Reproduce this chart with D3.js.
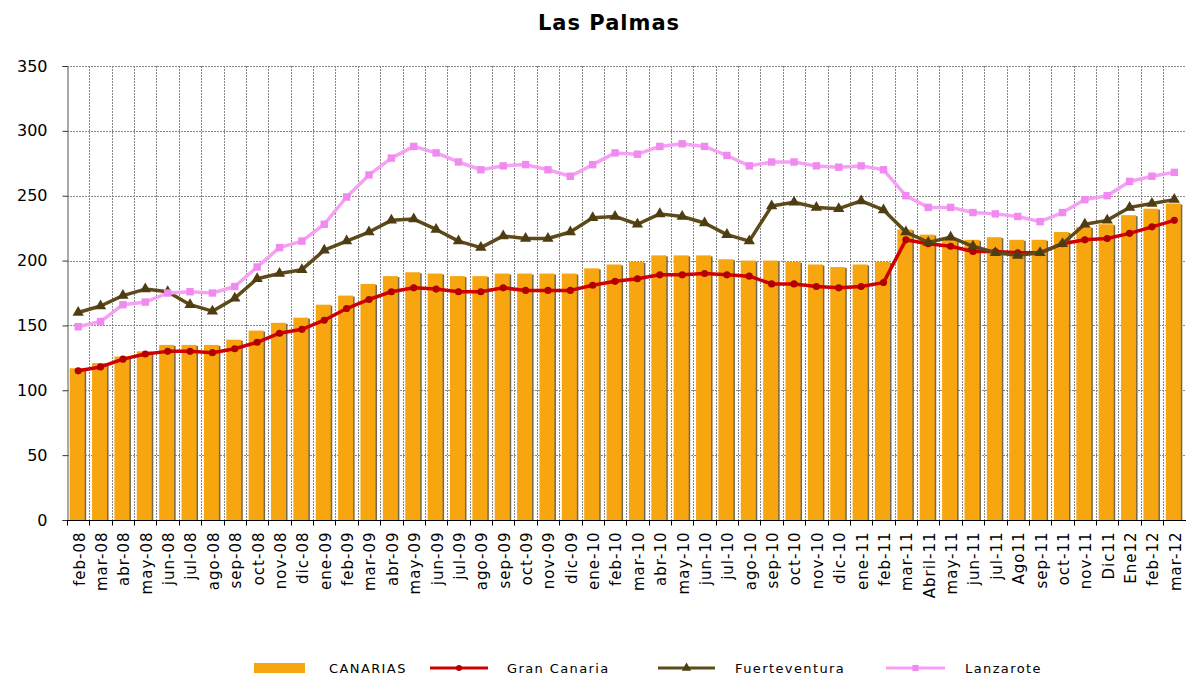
<!DOCTYPE html>
<html>
<head>
<meta charset="utf-8">
<script src="https://cdn.jsdelivr.net/npm/d3@7"></script>
<style>
  body { margin: 0; background: #fff; }
  text { font-family: "DejaVu Sans", Verdana, sans-serif; }
</style>
</head>
<body>
<div class="chart"></div>
<script>

var months = ["feb-08","mar-08","abr-08","may-08","jun-08","jul-08","ago-08","sep-08","oct-08","nov-08","dic-08",
  "ene-09","feb-09","mar-09","abr-09","may-09","jun-09","jul-09","ago-09","sep-09","oct-09","nov-09","dic-09",
  "ene-10","feb-10","mar-10","abr-10","may-10","jun-10","jul-10","ago-10","sep-10","oct-10","nov-10","dic-10",
  "ene-11","feb-11","mar-11","Abril-11","may-11","jun-11","jul-11","Ago11","sep-11","oct-11","nov-11","Dic11",
  "Ene12","feb-12","mar-12"];

var canarias = [117,121,126,130,135,135,135,139,146,152,156,166,173,182,188,191,190,188,188,190,190,190,190,
  194,197,199,204,204,204,201,200,200,199,197,195,197,199,224,220,216,216,218,216,216,222,226,228,235,240,244];

var granCanaria = [115,118,124,128,130,130,129,132,137,144,147,154,163,170,176,179,178,176,176,179,177,177,177,
  181,184,186,189,189,190,189,188,182,182,180,179,180,183,216,213,211,207,207,206,206,213,216,217,221,226,231];

var fuerteventura = [160,165,173,178,176,166,161,171,186,190,193,208,215,222,231,232,224,215,210,219,217,217,222,
  233,234,228,236,234,229,220,215,242,245,241,240,246,239,222,214,218,211,206,204,206,213,228,231,241,244,247];

var lanzarote = [149,153,166,168,175,176,175,180,195,210,215,228,249,266,279,288,283,276,270,273,274,270,265,
  274,283,282,288,290,288,281,273,276,276,273,272,273,270,250,241,241,237,236,234,230,237,247,250,261,265,268];

var yTicks = [0,50,100,150,200,250,300,350];

var width = 1186, height = 676;
var plotLeft = 67, plotRight = 1185.5, plotTop = 66, plotBottom = 520;

var svg = d3.select(".chart").append("svg")
    .attr("width", width)
    .attr("height", height);

svg.append("rect").attr("width", width).attr("height", height).attr("fill", "#fff");

var x = d3.scaleBand().domain(months).range([plotLeft, plotRight]);
var y = d3.scaleLinear().domain([0, 350]).range([plotBottom, plotTop]);
var bw = x.bandwidth();

// title
svg.append("text")
    .attr("x", 609)
    .attr("y", 30)
    .attr("text-anchor", "middle")
    .style("font-size", "21px")
    .style("font-weight", "bold")
    .style("letter-spacing", "1px")
    .text("Las Palmas");

// grid
var grid = svg.append("g");
grid.selectAll(".hg").data(yTicks.slice(1)).enter().append("line")
    .attr("x1", plotLeft).attr("x2", width)
    .attr("y1", function(d) { return Math.round(y(d)) + 0.5; })
    .attr("y2", function(d) { return Math.round(y(d)) + 0.5; })
    .attr("stroke", "#888").attr("stroke-dasharray", "2,1");
grid.selectAll(".vg").data(months.slice(1)).enter().append("line")
    .attr("x1", function(d) { return Math.round(x(d)) + 0.5; })
    .attr("x2", function(d) { return Math.round(x(d)) + 0.5; })
    .attr("y1", plotTop).attr("y2", plotBottom)
    .attr("stroke", "#888").attr("stroke-dasharray", "2,1");

// bars
var barW = 15;
var bars = svg.append("g");
bars.selectAll(".shadow").data(canarias).enter().append("rect")
    .attr("x", function(d, i) { return x(months[i]) + (bw - barW) / 2 + 0.5; })
    .attr("y", function(d) { return y(d) + 1; })
    .attr("width", barW)
    .attr("height", function(d) { return plotBottom - y(d) - 1; })
    .attr("fill", "#76684a");
bars.selectAll(".bar").data(canarias).enter().append("rect")
    .attr("x", function(d, i) { return x(months[i]) + (bw - barW) / 2 - 1; })
    .attr("y", function(d) { return y(d); })
    .attr("width", barW)
    .attr("height", function(d) { return plotBottom - y(d); })
    .attr("fill", "#f7a60f");

// lines
var cx = function(i) { return x(months[i]) + bw / 2; };
var line = d3.line()
    .x(function(d, i) { return cx(i); })
    .y(function(d) { return y(d); });

var series = [
  { name: "Gran Canaria", values: granCanaria, color: "#d00000", mark: "#b00000", sym: d3.symbolCircle, size: 40 },
  { name: "Fuerteventura", values: fuerteventura, color: "#5e4a1a", mark: "#4e3c12", sym: d3.symbolTriangle, size: 55 },
  { name: "Lanzarote", values: lanzarote, color: "#f5a2f5", mark: "#f08af0", sym: d3.symbolSquare, size: 55 }
];

series.forEach(function(s) {
  var g = svg.append("g");
  g.append("path")
      .datum(s.values)
      .attr("d", line)
      .attr("fill", "none")
      .attr("stroke", s.color)
      .attr("stroke-width", 3.5)
      .attr("stroke-linejoin", "round");
  g.selectAll("path.m").data(s.values).enter().append("path")
      .attr("class", "m")
      .attr("d", d3.symbol().type(s.sym).size(s.size))
      .attr("transform", function(d, i) { return "translate(" + cx(i) + "," + y(d) + ")"; })
      .attr("fill", s.mark);
});

// y axis
var yAxis = svg.append("g")
    .attr("transform", "translate(" + (plotLeft + 0.5) + ",0)")
    .call(d3.axisLeft(y).tickValues(yTicks).tickSize(5).tickPadding(15));
yAxis.select(".domain").attr("stroke", "#555");
yAxis.selectAll(".tick line").attr("stroke", "#333");
yAxis.selectAll("text")
    .style("font-size", "16px")
    .attr("fill", "#000");

// x axis
var xAxis = svg.append("g")
    .attr("transform", "translate(0," + (plotBottom + 0.5) + ")");
xAxis.append("line")
    .attr("x1", plotLeft).attr("x2", width)
    .attr("stroke", "#000").attr("stroke-width", 1.2);
xAxis.selectAll(".xt").data(months).enter().append("line")
    .attr("x1", function(d) { return Math.round(x(d)) + 0.5; })
    .attr("x2", function(d) { return Math.round(x(d)) + 0.5; })
    .attr("y1", 0).attr("y2", 5)
    .attr("stroke", "#000");
xAxis.selectAll(".xl").data(months).enter().append("text")
    .attr("transform", function(d) { return "translate(" + (x(d) + bw / 2 + 1) + ",0) rotate(-90)"; })
    .attr("x", -11)
    .attr("dy", "0.36em")
    .attr("text-anchor", "end")
    .style("font-size", "15px")
    .style("letter-spacing", "1px")
    .text(function(d) { return d; });

// legend
var legend = svg.append("g");
var ly = 668;
legend.append("rect")
    .attr("x", 254).attr("y", ly - 5).attr("width", 51).attr("height", 10)
    .attr("fill", "#f7a60f");
legend.append("text")
    .attr("x", 329).attr("y", ly).attr("dy", "0.36em")
    .style("font-size", "13px").style("letter-spacing", "1.4px")
    .text("CANARIAS");

var legendPos = [
  { x1: 430, x2: 488, tx: 507 },
  { x1: 658, x2: 715, tx: 735 },
  { x1: 886, x2: 945, tx: 965 }
];
series.forEach(function(s, k) {
  var p = legendPos[k];
  legend.append("line")
      .attr("x1", p.x1).attr("x2", p.x2).attr("y1", ly).attr("y2", ly)
      .attr("stroke", s.color).attr("stroke-width", 3);
  legend.append("path")
      .attr("d", d3.symbol().type(s.sym).size(s.size * 0.7))
      .attr("transform", "translate(" + ((p.x1 + p.x2) / 2) + "," + ly + ")")
      .attr("fill", s.mark);
  legend.append("text")
      .attr("x", p.tx).attr("y", ly).attr("dy", "0.36em")
      .style("font-size", "13px").style("letter-spacing", "1.4px")
      .text(s.name);
});

</script>
</body>
</html>
